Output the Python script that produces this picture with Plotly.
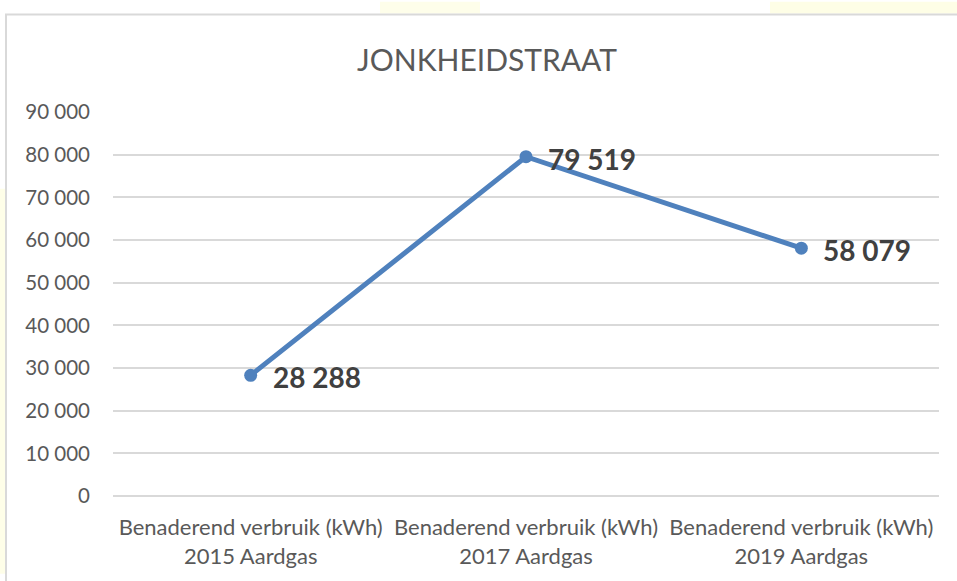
import plotly.graph_objects as go

categories = [
    "Benaderend verbruik (kWh)<br>2015 Aardgas",
    "Benaderend verbruik (kWh)<br>2017 Aardgas",
    "Benaderend verbruik (kWh)<br>2019 Aardgas",
]
values = [28288, 79519, 58079]
title_text = "JONKHEIDSTRAAT"
y_ticks = [0, 10000, 20000, 30000, 40000, 50000, 60000, 70000, 80000, 90000]

FONT = "Lato"
W, H = 957, 581
L, R, T, B = 113, 18, 112, 79
pw, ph = W - L - R, H - T - B

def px_x(x):
    return (x - L) / pw

def px_y(y):
    return (H - B - y) / ph

fig = go.Figure()
fig.add_trace(go.Scatter(
    x=categories, y=values, mode="lines+markers",
    line=dict(color="#4f81bd", width=5),
    marker=dict(color="#4f81bd", size=13),
    hoverinfo="skip", showlegend=False,
))

for c, v in zip(categories, values):
    fig.add_annotation(
        x=c, y=v, text=f"{v:,}".replace(",", " "), showarrow=False,
        xanchor="left", yanchor="middle", xshift=20, yshift=-2,
        font=dict(family=FONT, size=28, color="#404040", weight="bold"),
    )

shapes = [
    # pale yellow glows outside the chart frame
    dict(type="rect", xref="paper", yref="paper", x0=px_x(0), x1=px_x(6), y0=px_y(581), y1=px_y(190),
         fillcolor="#fefee8", line_width=0, layer="below"),
    dict(type="rect", xref="paper", yref="paper", x0=px_x(380), x1=px_x(480), y0=px_y(12), y1=px_y(0),
         fillcolor="#fefeea", line_width=0, layer="below"),
    dict(type="rect", xref="paper", yref="paper", x0=px_x(770), x1=px_x(957), y0=px_y(12), y1=px_y(0),
         fillcolor="#fefee6", line_width=0, layer="below"),
    # chart frame
    dict(type="rect", xref="paper", yref="paper", x0=px_x(6), x1=px_x(990), y0=px_y(620), y1=px_y(13),
         fillcolor="white", line=dict(color="#d9d9d9", width=2), layer="below"),
]

fig.update_layout(
    width=W, height=H,
    margin=dict(l=L, r=R, t=T, b=B, pad=0),
    paper_bgcolor="white", plot_bgcolor="rgba(0,0,0,0)",
    separators=", ",
    title=dict(text=title_text, x=487 / W, xanchor="center", y=1 - 60 / H, yanchor="middle",
               font=dict(family=FONT, size=30, color="#595959")),
    font=dict(family=FONT, color="#595959"),
    shapes=shapes,
    xaxis=dict(
        showgrid=False, zeroline=False, showline=False, ticks="",
        tickfont=dict(family=FONT, size=22, color="#595959"),
        ticklabelstandoff=16,
        range=[-0.5, 2.5],
        fixedrange=True,
    ),
    yaxis=dict(
        range=[0, 90000], tickvals=y_ticks, tickformat=",d",
        showgrid=True, gridcolor="#d9d9d9", gridwidth=1.5,
        zeroline=True, zerolinecolor="#d9d9d9", zerolinewidth=1.5,
        showline=False, ticks="",
        tickfont=dict(family=FONT, size=20.5, color="#595959"),
        ticklabelstandoff=22,
        fixedrange=True,
    ),
)

fig.write_html("out.html", config={"displayModeBar": False},
               post_script="document.body.style.margin='0';")
